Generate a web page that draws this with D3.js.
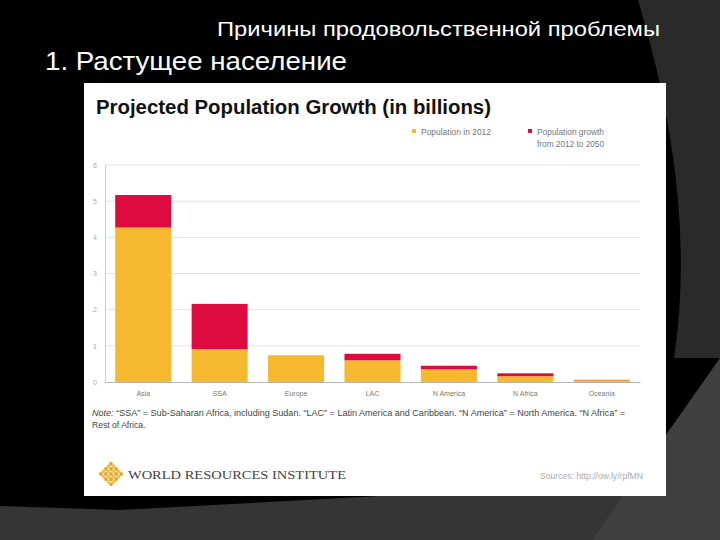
<!DOCTYPE html>
<html><head><meta charset="utf-8">
<script src="https://cdn.jsdelivr.net/npm/d3@7"></script>
<style>html,body{margin:0;padding:0;background:#000;}svg{display:block;}</style>
</head><body>
<svg id="c" width="720" height="540"></svg>
<script>
const categories = ["Asia","SSA","Europe","LAC","N America","N Africa","Oceania"];
const pop2012 = [4.27, 0.91, 0.74, 0.60, 0.35, 0.16, 0.05];
const growth2050 = [0.90, 1.25, 0.0, 0.18, 0.10, 0.08, 0.01];
const yTicks = [0,1,2,3,4,5,6];
const seriesNames = ["Population in 2012", "Population growth|from 2012 to 2050"];
const seriesColors = ["#f5b82e", "#de0b41"];

const svg = d3.select("#c");
const font = "'Liberation Sans', Arial, sans-serif";

// slide background
svg.append("rect").attr("width",720).attr("height",540).attr("fill","#000");
svg.append("path").attr("d","M638,0 L720,0 L720,358 L674,358 Q698,200 638,0 Z").attr("fill","#2a2a2a");
svg.append("path").attr("d","M0,506 L120,510 L380,496 L720,496 L720,540 L0,540 Z").attr("fill","#353535");
svg.append("path").attr("d","M720,358 L720,540 L592,540 Z").attr("fill","#404040");

// slide titles
svg.append("text").attr("x",217).attr("y",36).attr("fill","#fff")
  .style("font-family",font).style("font-size","21px")
  .attr("textLength",443).attr("lengthAdjust","spacingAndGlyphs")
  .text("Причины продовольственной проблемы");
svg.append("text").attr("x",45).attr("y",70).attr("fill","#fff")
  .style("font-family",font).style("font-size","25px")
  .attr("textLength",302).attr("lengthAdjust","spacingAndGlyphs")
  .text("1. Растущее население");

// chart panel
svg.append("rect").attr("x",84).attr("y",83).attr("width",582).attr("height",413).attr("fill","#fff");

svg.append("text").attr("x",96).attr("y",114).attr("fill","#111")
  .style("font-family",font).style("font-size","19.5px").style("font-weight","bold")
  .attr("textLength",395).attr("lengthAdjust","spacingAndGlyphs")
  .text("Projected Population Growth (in billions)");

// legend
const legX = [412, 528];
seriesNames.forEach((nm,i)=>{
  svg.append("rect").attr("x",legX[i]).attr("y",129).attr("width",4).attr("height",4).attr("fill",seriesColors[i]);
  const lines = nm.split("|");
  lines.forEach((ln,j)=>{
    svg.append("text").attr("x",legX[i]+9).attr("y",135+j*12).attr("fill","#777")
      .style("font-family",font).style("font-size","9.5px")
      .attr("textLength", j===0 ? (i===0?70:67) : 67).attr("lengthAdjust","spacingAndGlyphs")
      .text(ln);
  });
});

// scales
const x = d3.scaleBand().domain(categories).range([105,640]).paddingInner(0.267).paddingOuter(0.1335);
const y = d3.scaleLinear().domain([0,6]).range([382,165]);

// gridlines
svg.append("g").selectAll("line").data(yTicks.filter(t=>t>0)).join("line")
  .attr("x1",105).attr("x2",640).attr("y1",d=>y(d)).attr("y2",d=>y(d))
  .attr("stroke","#e2e2e2").attr("stroke-width",1);

// y axis
const yAxis = svg.append("g").attr("transform","translate(105,0)")
  .call(d3.axisLeft(y).tickValues(yTicks).tickFormat(d3.format("d")).tickSize(0).tickPadding(10));
yAxis.select(".domain").attr("stroke","#cfcfcf");
yAxis.selectAll("text").attr("fill","#aaa").style("font-family",font).style("font-size","7px").attr("text-anchor","middle");

// bars
const data = categories.map((c,i)=>({c, a:pop2012[i], b:growth2050[i]}));
svg.selectAll("rect.a").data(data).join("rect").attr("class","a")
  .attr("x",d=>x(d.c)).attr("width",x.bandwidth())
  .attr("y",d=>y(d.a)).attr("height",d=>y(0)-y(d.a)).attr("fill",seriesColors[0]);
svg.selectAll("rect.b").data(data).join("rect").attr("class","b")
  .attr("x",d=>x(d.c)).attr("width",x.bandwidth())
  .attr("y",d=>y(d.a+d.b)).attr("height",d=>y(0)-y(d.b)).attr("fill",seriesColors[1]);

// x axis
const xAxis = svg.append("g").attr("transform","translate(0,382)")
  .call(d3.axisBottom(x).tickSize(0).tickPadding(9));
xAxis.select(".domain").attr("stroke","#b5b5b5");
xAxis.selectAll("text").attr("fill","#777").style("font-family",font).style("font-size","7px");

// note
const note = svg.append("text").attr("x",92).attr("y",416).attr("fill","#444")
  .style("font-family",font).style("font-size","8.6px")
  .attr("textLength",533).attr("lengthAdjust","spacingAndGlyphs");
note.append("tspan").style("font-style","italic").text("Note:");
note.append("tspan").text("  \u201CSSA\u201D = Sub-Saharan Africa, including Sudan. \u201CLAC\u201D = Latin America and Caribbean. \u201CN America\u201D = North America. \u201CN Africa\u201D =");
svg.append("text").attr("x",92).attr("y",428).attr("fill","#444")
  .style("font-family",font).style("font-size","8.6px").text("Rest of Africa.");

// WRI logo
const logo = svg.append("g").attr("transform","translate(111,474) rotate(45)");
for (let i=-2;i<=2;i++) for (let j=-2;j<=2;j++) {
  logo.append("circle").attr("cx",i*3.6).attr("cy",j*3.6).attr("r",1.9)
    .attr("fill", (Math.abs(i)+Math.abs(j))%2 ? "#f0c24e" : "#e0a830");
}
svg.append("text").attr("x",128).attr("y",479).attr("fill","#444")
  .style("font-family","'Liberation Serif', 'DejaVu Serif', serif").style("font-size","12.5px")
  .attr("textLength",218).attr("lengthAdjust","spacingAndGlyphs")
  .text("WORLD RESOURCES INSTITUTE");

svg.append("text").attr("x",540).attr("y",479).attr("fill","#aaa")
  .style("font-family",font).style("font-size","9px")
  .attr("textLength",103).attr("lengthAdjust","spacingAndGlyphs")
  .text("Sources: http://ow.ly/rpfMN");
</script>
</body></html>
